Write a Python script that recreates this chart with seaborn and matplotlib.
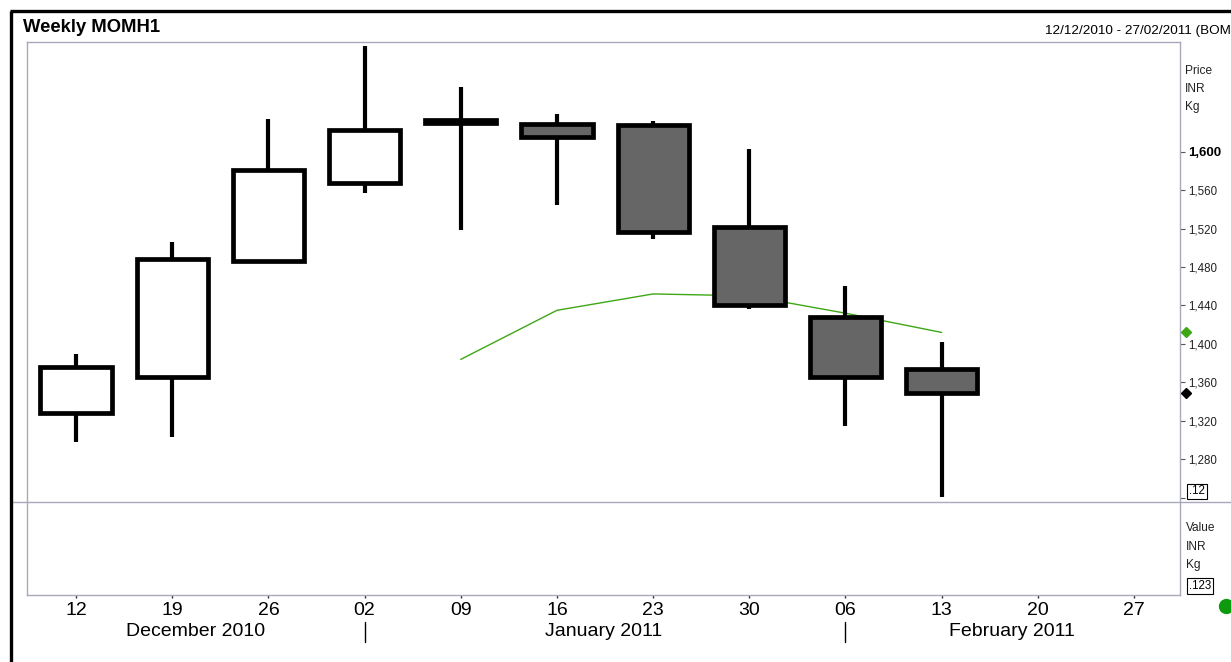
import numpy as np
import pandas as pd
import matplotlib
matplotlib.use("Agg")
import matplotlib.pyplot as plt
import seaborn as sns
from matplotlib.lines import Line2D
import matplotlib.transforms as mtransforms

# ---------------- data ----------------
week_labels = ["12", "19", "26", "02", "09", "16", "23", "30", "06", "13", "20", "27"]
month_labels = ["December 2010", "January 2011", "February 2011"]
month_pos = [1.24, 5.49, 9.73]          # week-index positions of month labels
month_breaks = [3, 8]                    # first week of Jan / Feb

opens = [1328, 1366, 1486, 1567, 1633, 1629, 1628, 1522, 1428, 1374]
closes = [1376, 1488, 1581, 1622, 1630, 1615, 1516, 1440, 1366, 1349]
highs = [1390, 1506, 1634, 1710, 1667, 1639, 1632, 1603, 1460, 1402]
lows = [1298, 1303, 1486, 1557, 1518, 1544, 1509, 1436, 1315, 1241]

ma_idx = [4, 5, 6, 7, 8, 9]
ma_vals = [1384, 1435, 1452, 1450, 1432, 1412]

price_ticks = [1240, 1280, 1320, 1360, 1400, 1440, 1480, 1520, 1560, 1600]

# ---------------- style ----------------
sns.set_style("white")
plt.rcParams["font.family"] = ["Liberation Sans", "DejaVu Sans"]

W, H = 1231, 662
fig = plt.figure(figsize=(W / 100, H / 100), dpi=100)
fig.patch.set_facecolor("white")


def fx(x):
    return x / W


def fy(y):
    return 1 - y / H


L, R, T, M, B = 27, 1180, 42, 502, 595
ax = fig.add_axes([fx(L), fy(M), fx(R) - fx(L), fy(T) - fy(M)])
axl = fig.add_axes([fx(L), fy(B), fx(R) - fx(L), fy(M) - fy(B)])

spine_col = "#A9A9BC"
for a in (ax, axl):
    a.set_facecolor("white")
    for s in a.spines.values():
        s.set_color(spine_col)
        s.set_linewidth(1.0)
ax.spines["bottom"].set_visible(False)
axl.spines["top"].set_visible(False)

x = np.arange(len(opens))
xlim = (-0.51, 11.478)

# moving average line (behind candles)
ma_df = pd.DataFrame({"x": ma_idx, "v": ma_vals})
sns.lineplot(data=ma_df, x="x", y="v", ax=ax, color="#3DA814", linewidth=1.0, zorder=1)

# wicks
ax.vlines(x, lows, highs, color="black", linewidth=3.0, zorder=2)

# bodies
o = np.array(opens)
c = np.array(closes)
bottoms = np.minimum(o, c)
heights = np.abs(c - o)
fills = ["white" if cc >= oo else "#666666" for oo, cc in zip(o, c)]
ax.bar(x, heights, bottom=bottoms, width=0.74, color=fills, edgecolor="black",
       linewidth=3.4, zorder=3)

ax.set_xlim(*xlim)
ax.set_ylim(1235.8, 1713.8)
ax.set_xticks([])
ax.set_xlabel("")
ax.set_ylabel("")
ax.yaxis.tick_right()
ax.set_yticks(price_ticks)
labels = ["" if v == 1240 else f"{v:,}" for v in price_ticks]
ax.set_yticklabels(labels)
ax.tick_params(axis="y", direction="out", length=3.6, width=0.8, color="#555555",
               pad=2, labelsize=8.3, labelcolor="#222222", right=True, left=False)
for t in ax.get_yticklabels():
    if t.get_text() == "1,600":
        t.set_fontweight("bold")
        t.set_fontsize(9.5)
        t.set_color("black")

# last-value diamonds on the price scale
ax.plot([11.54], [ma_vals[-1]], marker="D", ms=5, color="#3DA814", clip_on=False, zorder=5)
ax.plot([11.54], [closes[-1]], marker="D", ms=5, color="black", clip_on=False, zorder=5)

# lower (empty) panel
axl.set_xlim(*xlim)
axl.set_ylim(0, 1)
axl.set_yticks([])
axl.set_xticks(np.arange(len(week_labels)))
axl.set_xticklabels(week_labels)
axl.tick_params(axis="x", direction="out", length=1.8, width=1.0, color="#333333",
                pad=3.5, labelsize=14, labelcolor="black", bottom=True)

# month labels and separators
tr = mtransforms.blended_transform_factory(axl.transData, fig.transFigure)
for lab, p in zip(month_labels, month_pos):
    fig.text(p, fy(632), lab, transform=tr, ha="center", va="center", fontsize=14,
             color="black")
for b in month_breaks:
    fig.add_artist(Line2D([b, b], [fy(622), fy(642)], transform=tr, color="black",
                          linewidth=1.0))

# divider line through full width
fig.add_artist(Line2D([fx(11), 1], [fy(M), fy(M)], transform=fig.transFigure,
                      color=spine_col, linewidth=1.0))

# outer black frame (left & top)
fig.add_artist(Line2D([fx(11), fx(11)], [0, fy(11)], transform=fig.transFigure,
                      color="black", linewidth=2.4, solid_capstyle="butt"))
fig.add_artist(Line2D([fx(10), 1], [fy(11), fy(11)], transform=fig.transFigure,
                      color="black", linewidth=2.4, solid_capstyle="butt"))

# titles
fig.text(fx(23), fy(28), "Weekly MOMH1", ha="left", va="center", fontsize=13.3,
         fontweight="bold", color="black")
fig.text(fx(1231), fy(31), "12/12/2010 - 27/02/2011 (BOM", ha="right", va="center",
         fontsize=9.7, color="black")

# axis unit labels
for txt, yy in zip(["Price", "INR", "Kg"], [71, 89, 107]):
    fig.text(fx(1185), fy(yy), txt, ha="left", va="center", fontsize=8.6, color="#222222")
for txt, yy in zip(["Value", "INR", "Kg"], [528, 547, 565]):
    fig.text(fx(1186), fy(yy), txt, ha="left", va="center", fontsize=8.6, color="#222222")

box = dict(boxstyle="square,pad=0.15", fc="white", ec="black", lw=0.8)
fig.text(fx(1189), fy(491.5), ".12", ha="left", va="center", fontsize=8.3, color="black",
         bbox=box)
fig.text(fx(1189), fy(586), ".123", ha="left", va="center", fontsize=8.3, color="black",
         bbox=box)

# green status dot at bottom right
fig.add_artist(Line2D([fx(1226)], [fy(606)], transform=fig.transFigure, marker="o",
                      ms=10, color="#0E9A0E", linestyle="none"))

fig.savefig("out.png", dpi=100, facecolor="white")
